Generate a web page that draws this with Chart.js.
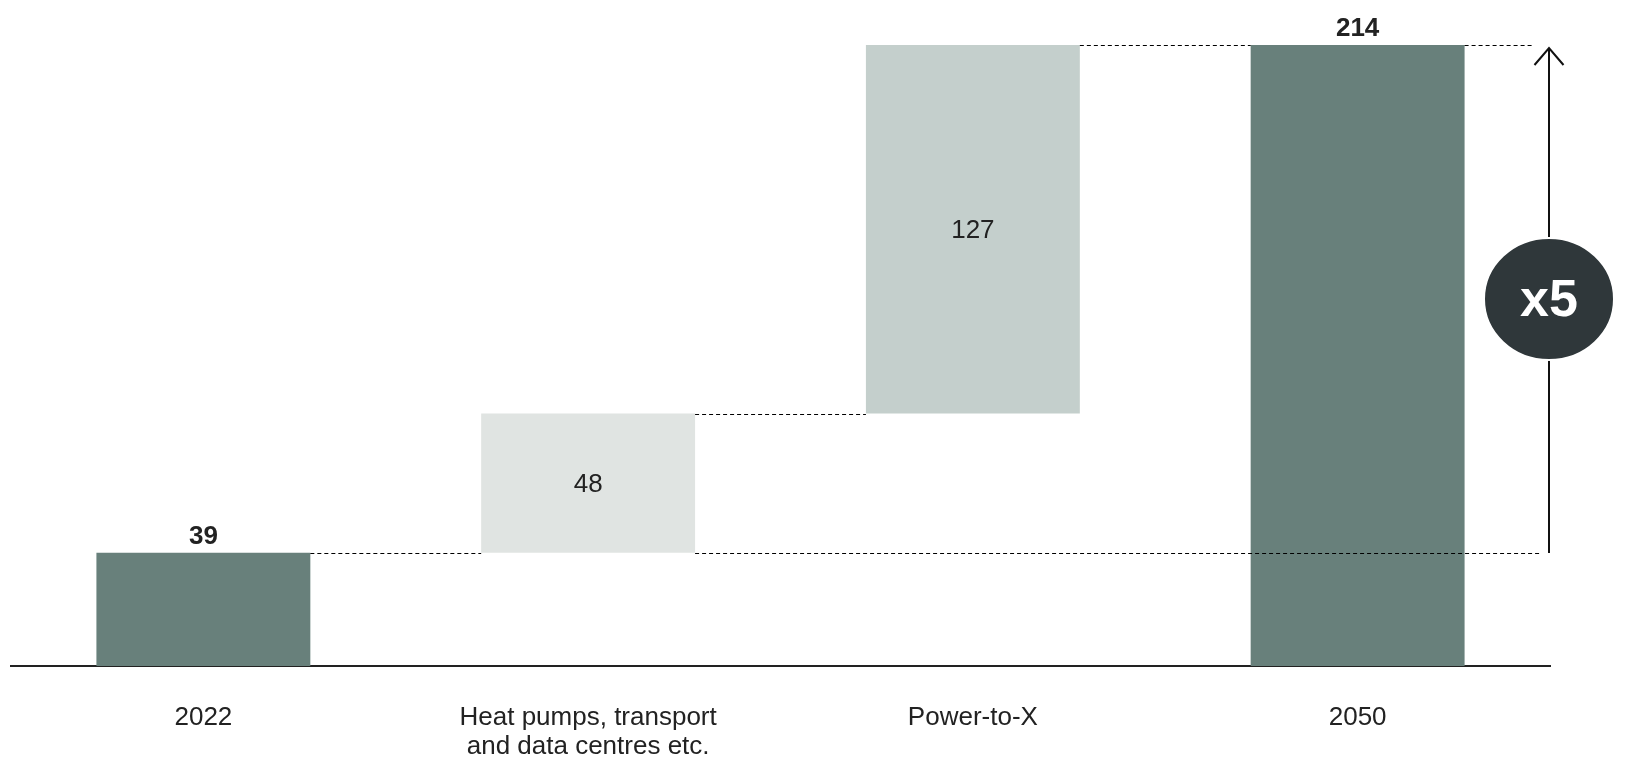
<!DOCTYPE html>
<html>
<head>
<meta charset="utf-8">
<script src="https://cdn.jsdelivr.net/npm/chart.js@4"></script>
<style>
  html, body { margin: 0; padding: 0; background: #fff; }
  #wrap { width: 1627px; height: 763px; position: relative; }
</style>
</head>
<body>
<div id="wrap"><canvas id="myChart"></canvas></div>
<script>
// --- DATA ---
const categories = [['2022'], ['Heat pumps, transport', 'and data centres etc.'], ['Power-to-X'], ['2050']];
const values = [39, 48, 127, 214];
const isTotal = [true, false, false, true];
const barColors = ['#68807B', '#E0E4E2', '#C4CFCC', '#68807B'];
const multiplierLabel = 'x5';

const FONT = '"Liberation Sans", Arial, sans-serif';
const TEXT = '#222222';

// build waterfall ranges from the values
const ranges = [];
let running = 0;
values.forEach((v, i) => {
    if (isTotal[i]) {
        ranges.push([0, v]);
        running = v;
    } else {
        ranges.push([running, running + v]);
        running += v;
    }
});

// --- OVERLAY: labels, connectors, arrow ---
const waterfallOverlay = {
    id: 'waterfallOverlay',
    afterDatasetsDraw(chart) {
        const ctx = chart.ctx;
        const yScale = chart.scales.y;
        const bars = chart.getDatasetMeta(0).data;
        const edge = (b, side) => b.x + side * b.width / 2;

        ctx.save();
        // dashed connectors between neighbouring bars
        ctx.strokeStyle = '#000';
        ctx.lineWidth = 1.2;
        ctx.setLineDash([4, 3]);
        const dash = (x1, x2, y) => {
            ctx.beginPath();
            ctx.moveTo(x1, y + 0.5);
            ctx.lineTo(x2, y + 0.5);
            ctx.stroke();
        };
        const arrowX = Math.round(chart.chartArea.right) - 1;
        for (let i = 0; i < bars.length - 1; i++) {
            const y = Math.round(yScale.getPixelForValue(ranges[i][1]));
            dash(edge(bars[i], 1), edge(bars[i + 1], -1), y);
        }
        const startY = Math.round(yScale.getPixelForValue(values[0]));
        const endY = Math.round(yScale.getPixelForValue(values[values.length - 1]));
        dash(edge(bars[1], 1), arrowX - 9, startY);
        dash(edge(bars[bars.length - 1], 1), arrowX - 16, endY);
        ctx.setLineDash([]);

        // value labels
        ctx.fillStyle = TEXT;
        ctx.textAlign = 'center';
        bars.forEach((b, i) => {
            if (isTotal[i]) {
                ctx.font = 'bold 26px ' + FONT;
                ctx.textBaseline = 'alphabetic';
                ctx.fillText(String(values[i]), b.x, Math.min(b.y, b.base) - 9);
            } else {
                ctx.font = '26px ' + FONT;
                ctx.textBaseline = 'middle';
                ctx.fillText(String(values[i]), b.x, (b.y + b.base) / 2 + 2);
            }
        });

        // growth arrow
        ctx.strokeStyle = '#111';
        ctx.lineWidth = 2;
        ctx.beginPath();
        ctx.moveTo(arrowX, startY);
        ctx.lineTo(arrowX, endY + 3);
        ctx.stroke();
        ctx.beginPath();
        ctx.moveTo(arrowX - 14.5, endY + 20);
        ctx.lineTo(arrowX, endY + 3);
        ctx.lineTo(arrowX + 14.5, endY + 20);
        ctx.stroke();

        // multiplier badge
        const cy = (startY + endY) / 2;
        ctx.fillStyle = '#2F373A';
        ctx.strokeStyle = '#fff';
        ctx.lineWidth = 2;
        ctx.beginPath();
        ctx.ellipse(arrowX, cy, 65, 61, 0, 0, Math.PI * 2);
        ctx.fill();
        ctx.stroke();
        ctx.fillStyle = '#fff';
        ctx.font = 'bold 52px ' + FONT;
        ctx.textBaseline = 'middle';
        ctx.fillText(multiplierLabel, arrowX, cy + 3);
        ctx.restore();
    }
};

document.addEventListener('DOMContentLoaded', () => {
    const chartCanvas = document.getElementById('myChart');
    new Chart(chartCanvas.getContext('2d'), {
        type: 'bar',
        data: {
            labels: categories,
            datasets: [{
                data: ranges,
                backgroundColor: barColors,
                borderWidth: 0,
                borderSkipped: false,
                categoryPercentage: 1,
                barPercentage: 0.556
            }]
        },
        options: {
            responsive: true,
            maintainAspectRatio: false,
            animation: false,
            layout: { padding: { top: 45, left: 11, right: 77, bottom: 0 } },
            plugins: {
                legend: { display: false },
                tooltip: { enabled: false }
            },
            scales: {
                x: {
                    afterFit: (scale) => { scale.height = 97; },
                    grid: { display: false, drawTicks: false },
                    border: { display: true, color: '#222', width: 2 },
                    ticks: {
                        color: TEXT,
                        padding: 38,
                        maxRotation: 0,
                        autoSkip: false,
                        font: { family: FONT, size: 26, lineHeight: 1.1 }
                    }
                },
                y: {
                    display: false,
                    min: 0,
                    max: 214
                }
            }
        },
        plugins: [waterfallOverlay]
    });
});
</script>
</body>
</html>
